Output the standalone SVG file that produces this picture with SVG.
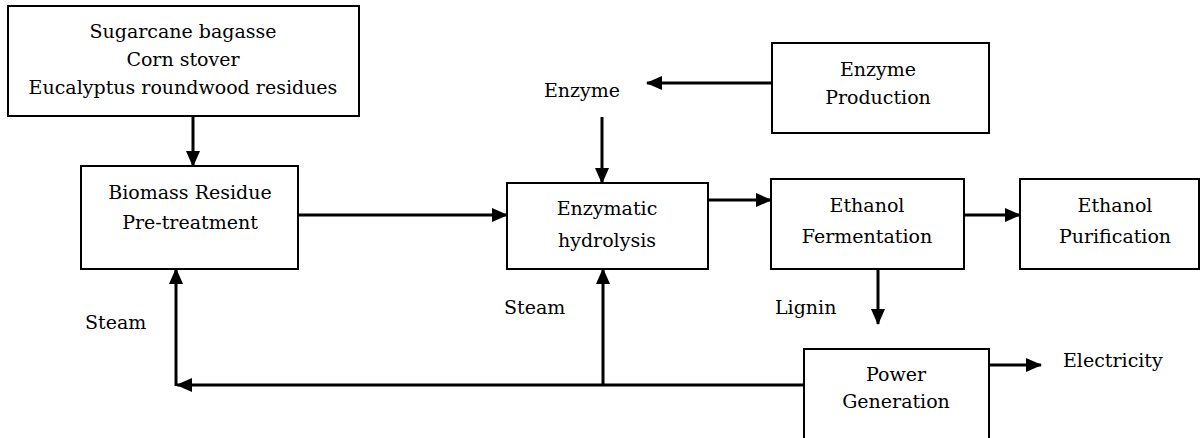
<svg xmlns="http://www.w3.org/2000/svg" width="1201" height="438" viewBox="0 0 1201 438">
<style>
.box{fill:#fff;stroke:#000;stroke-width:2}
.t{font-family:'DejaVu Serif',serif;font-size:19px;fill:#000}
.c{text-anchor:middle}
.ln{fill:none;stroke:#000;stroke-width:3}
.ar{marker-end:url(#ah)}
</style>
<defs>
<marker id="ah" markerUnits="userSpaceOnUse" markerWidth="16" markerHeight="16" viewBox="0 0 16 16" refX="15" refY="8" orient="auto">
<path d="M0,1 L16,8 L0,15 Z" fill="#000"/>
</marker>
</defs>
<rect width="1201" height="438" fill="#fff"/>
<g id="connectors">
<line class="ln ar" x1="193" y1="116" x2="193" y2="166"/>
<line class="ln ar" x1="298" y1="215" x2="507" y2="215"/>
<line class="ln ar" x1="772" y1="83" x2="647" y2="83"/>
<line class="ln ar" x1="602" y1="117" x2="602" y2="183"/>
<line class="ln ar" x1="708" y1="200" x2="771" y2="200"/>
<line class="ln ar" x1="964" y1="215" x2="1020" y2="215"/>
<line class="ln ar" x1="878" y1="269" x2="878" y2="324"/>
<line class="ln ar" x1="989" y1="365" x2="1041" y2="365"/>
<line class="ln ar" x1="804" y1="385" x2="177" y2="385"/>
<line class="ln ar" x1="176" y1="386" x2="176" y2="269"/>
<line class="ln ar" x1="603" y1="386" x2="603" y2="269"/>
</g>
<g id="sources">
<rect class="box" x="8" y="6" width="351" height="110"/>
<text class="t c" x="183" y="38">Sugarcane bagasse</text>
<text class="t c" x="183" y="66">Corn stover</text>
<text class="t c" x="183" y="94">Eucalyptus roundwood residues</text>
</g>
<g id="pretreatment">
<rect class="box" x="81" y="166" width="217" height="103"/>
<text class="t c" x="190" y="199">Biomass Residue</text>
<text class="t c" x="190" y="229">Pre-treatment</text>
</g>
<g id="hydrolysis">
<rect class="box" x="507" y="183" width="201" height="86"/>
<text class="t c" x="607" y="215">Enzymatic</text>
<text class="t c" x="607" y="247">hydrolysis</text>
</g>
<g id="enzyme-production">
<rect class="box" x="772" y="43" width="217" height="90"/>
<text class="t c" x="878" y="76">Enzyme</text>
<text class="t c" x="878" y="104">Production</text>
</g>
<g id="fermentation">
<rect class="box" x="771" y="179" width="193" height="90"/>
<text class="t c" x="867" y="212">Ethanol</text>
<text class="t c" x="867" y="243">Fermentation</text>
</g>
<g id="purification">
<rect class="box" x="1020" y="179" width="179" height="90"/>
<text class="t c" x="1115" y="212">Ethanol</text>
<text class="t c" x="1115" y="243">Purification</text>
</g>
<g id="power">
<rect class="box" x="804" y="349" width="185" height="100"/>
<text class="t c" x="896" y="381">Power</text>
<text class="t c" x="896" y="408">Generation</text>
</g>
<g id="labels">
<text class="t" x="544" y="97">Enzyme</text>
<text class="t" x="85" y="329">Steam</text>
<text class="t" x="504" y="314">Steam</text>
<text class="t" x="775" y="314">Lignin</text>
<text class="t" x="1063" y="367">Electricity</text>
</g>
</svg>
